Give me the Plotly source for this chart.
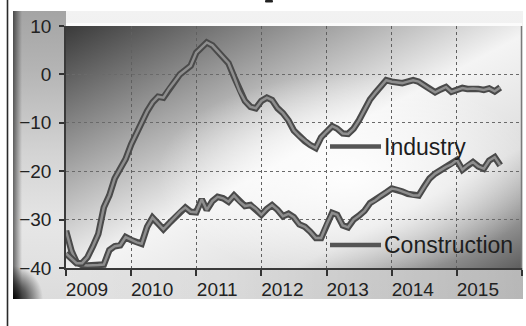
import base64
import pandas as pd
import plotly.graph_objects as go

# Monthly survey balances, Jan 2009 onwards
months = pd.date_range("2009-01-01", periods=81, freq="MS")

industry = [
    -37.0, -38.0, -39.0, -39.0, -37.8, -35.5, -33.0, -27.5, -25.0, -21.5,
    -19.3, -17.5, -14.5, -12.0, -10.0, -7.6, -5.8, -4.6, -4.8, -3.0,
    -1.5, 0.0, 0.9, 1.8, 4.5, 5.7, 6.6, 6.0, 4.8, 3.4,
    2.3, -0.5, -3.5, -5.5, -6.7, -7.0, -5.5, -4.8, -5.3, -7.0,
    -8.0, -9.5, -11.6, -12.8, -13.8, -14.6, -15.2, -13.0, -11.8, -10.7,
    -11.2, -12.2, -12.3, -11.2, -9.5, -7.3, -5.2, -3.8, -2.5, -1.2,
    -1.5, -1.6, -1.8, -1.5, -1.2, -1.5, -2.3, -3.0, -3.7, -3.1,
    -2.6, -3.6, -3.2, -2.8, -3.0, -2.9, -3.0, -3.2, -2.9, -3.5,
    -2.7,
]

construction = [
    -32.3, -36.5, -38.8, -39.4, -39.5, -39.5, -39.4, -39.3, -36.3, -35.5,
    -35.3, -33.6, -34.2, -34.7, -35.0, -31.5, -29.6, -30.8, -32.0, -30.8,
    -29.6, -28.4, -27.5, -28.4, -28.5, -25.8, -28.0, -26.2, -25.3, -25.6,
    -26.3, -25.0, -26.3, -27.2, -27.0, -27.8, -29.0, -27.8, -27.0, -28.0,
    -29.3, -28.8, -29.5, -31.0, -31.5, -32.5, -33.8, -33.8, -31.0, -28.6,
    -29.0, -31.2, -31.6, -30.0, -29.2, -28.2, -26.6, -26.0, -25.1, -24.4,
    -23.6, -23.8, -24.2, -24.7, -25.0, -25.0, -23.2, -21.5, -20.5, -19.8,
    -19.1, -18.6, -17.7, -19.7, -18.8, -18.1, -19.0, -19.5, -17.8, -17.1,
    -18.8,
]

series_names = ["Industry", "Construction"]
year_ticks = [f"{y}-01-01" for y in range(2009, 2017)]
year_labels = [str(y) for y in range(2009, 2016)] + [""]
y_ticks = [10, 0, -10, -20, -30, -40]

W, H = 526, 326
L, R, T, B = 66, 4, 26, 58
PW, PH = W - L - R, H - T - B

# Backdrop: framed panel with a vignetted, diagonally shaded plotting area
svg = f"""<svg xmlns="http://www.w3.org/2000/svg" width="{W}" height="{H}" viewBox="0 0 {W} {H}" preserveAspectRatio="none">
<defs>
 <linearGradient id="panel" x1="0" y1="0" x2="0" y2="1">
  <stop offset="0" stop-color="#f2f2f2"/><stop offset="1" stop-color="#e4e4e4"/>
 </linearGradient>
 <linearGradient id="bottomshade" x1="0" y1="0" x2="1" y2="0">
  <stop offset="0" stop-color="#000" stop-opacity="0"/><stop offset="0.4" stop-color="#000" stop-opacity="0.04"/>
  <stop offset="1" stop-color="#000" stop-opacity="0.2"/>
 </linearGradient>
 <linearGradient id="leftstrip" x1="0" y1="0" x2="0" y2="1">
  <stop offset="0" stop-color="#a4a4a4"/><stop offset="0.2" stop-color="#b4b4b4"/>
  <stop offset="0.5" stop-color="#d4d4d4"/><stop offset="0.75" stop-color="#e6e6e6"/>
  <stop offset="1" stop-color="#dcdcdc"/>
 </linearGradient>
 <linearGradient id="leftedge" x1="0" y1="0" x2="1" y2="0">
  <stop offset="0" stop-color="#000" stop-opacity="0.55"/><stop offset="1" stop-color="#000" stop-opacity="0"/>
 </linearGradient>
 <radialGradient id="corner" cx="0" cy="1" r="1">
  <stop offset="0" stop-color="#000" stop-opacity="0.95"/><stop offset="0.45" stop-color="#000" stop-opacity="0.6"/>
  <stop offset="1" stop-color="#000" stop-opacity="0"/>
 </radialGradient>
 <linearGradient id="plotshade" x1="0" y1="0" x2="1" y2="1">
  <stop offset="0" stop-color="#3a3a3a"/><stop offset="0.3" stop-color="#a6a6a6"/>
  <stop offset="0.52" stop-color="#f4f4f4"/><stop offset="0.75" stop-color="#dedede"/>
  <stop offset="1" stop-color="#5e5e5e"/>
 </linearGradient>
 <radialGradient id="glow" cx="0.62" cy="0.62" r="0.42">
  <stop offset="0" stop-color="#fff" stop-opacity="0.95"/><stop offset="0.55" stop-color="#fff" stop-opacity="0.5"/>
  <stop offset="1" stop-color="#fff" stop-opacity="0"/>
 </radialGradient>
</defs>
<line x1="7.5" y1="0" x2="7.5" y2="{H}" stroke="#2a2a2a" stroke-width="1.6"/>
<rect x="265" y="0" width="8" height="2.5" rx="1" fill="#222"/>
<rect x="13" y="11" width="510" height="288" fill="url(#panel)"/>
<rect x="13" y="{T + PH}" width="510" height="{299 - T - PH}" fill="url(#bottomshade)"/>
<rect x="13" y="11" width="{L - 13}" height="288" fill="url(#leftstrip)"/>
<rect x="13" y="11" width="9" height="288" fill="url(#leftedge)"/>
<rect x="13" y="266" width="30" height="33" fill="url(#corner)"/>
<rect x="{L}" y="{T - 3}" width="{PW}" height="3" fill="#fbfbfb"/>
<rect x="{L}" y="{T}" width="{PW}" height="{PH}" fill="url(#plotshade)"/>
<rect x="{L}" y="{T}" width="{PW}" height="{PH}" fill="url(#glow)"/>
<line x1="{L + PW - 0.5}" y1="{T}" x2="{L + PW - 0.5}" y2="{T + PH}" stroke="#7a7a7a" stroke-width="1.5"/>
</svg>"""
backdrop = "data:image/svg+xml;base64," + base64.b64encode(svg.encode()).decode()

fig = go.Figure()

# Each series is drawn as a dark tube with a lighter core
for values in (construction, industry):
    fig.add_trace(go.Scatter(x=months, y=values, mode="lines",
                             line=dict(color="#4a4a4a", width=6.5),
                             hoverinfo="skip", showlegend=False))
    fig.add_trace(go.Scatter(x=months, y=values, mode="lines",
                             line=dict(color="#8e8e8e", width=2.5),
                             showlegend=False))

fig.add_layout_image(dict(
    source=backdrop, xref="paper", yref="paper",
    x=-L / PW, y=(PH + T) / PH, sizex=W / PW, sizey=H / PH,
    xanchor="left", yanchor="top", sizing="stretch", layer="below",
))

# Inline series labels with line samples
label_rows = {"Industry": 146.5, "Construction": 245.0}
for name in series_names:
    ypix = label_rows[name]
    yp = (T + PH - ypix) / PH
    fig.add_shape(type="line", xref="paper", yref="paper",
                  x0=(330 - L) / PW, x1=(381 - L) / PW, y0=yp, y1=yp,
                  line=dict(color="#555555", width=4.5))
    fig.add_annotation(text=name, xref="paper", yref="paper",
                       x=(382 - L) / PW, y=yp, xanchor="left", yanchor="middle",
                       showarrow=False,
                       font=dict(size=23, color="#1e1e1e",
                                 family="Liberation Sans, Arial, sans-serif"))

fig.update_layout(
    width=W, height=H,
    margin=dict(l=L, r=R, t=T, b=B, pad=0),
    paper_bgcolor="white", plot_bgcolor="rgba(0,0,0,0)",
    showlegend=False,
    font=dict(family="Liberation Sans, Arial, sans-serif", size=19, color="#222222"),
)
# Year labels sit just right of each year boundary; the boundary tick marks
# are drawn as minor ticks so the labels can hug the axis line.
fig.update_xaxes(
    type="date", range=["2009-01-01", "2016-01-01"],
    tickvals=year_ticks, ticktext=year_labels, ticklabelshift=21,
    ticklabelstandoff=3, ticks="",
    minor=dict(tickvals=year_ticks, ticks="outside", ticklen=6, tickwidth=1.5,
               tickcolor="#333333", showgrid=False),
    showgrid=True, gridcolor="#606060", griddash="dot", gridwidth=1.2,
    showline=True, linecolor="#3a3a3a", linewidth=2, zeroline=False,
)
fig.update_yaxes(
    range=[-40, 10], tickvals=y_ticks, ticklabelstandoff=4,
    ticks="outside", ticklen=5, tickwidth=1.5, tickcolor="#333333",
    showgrid=True, gridcolor="#6a6a6a", griddash="dot", gridwidth=1.2,
    showline=True, linecolor="#3a3a3a", linewidth=1.5, zeroline=False,
)

fig.write_html("out.html")
